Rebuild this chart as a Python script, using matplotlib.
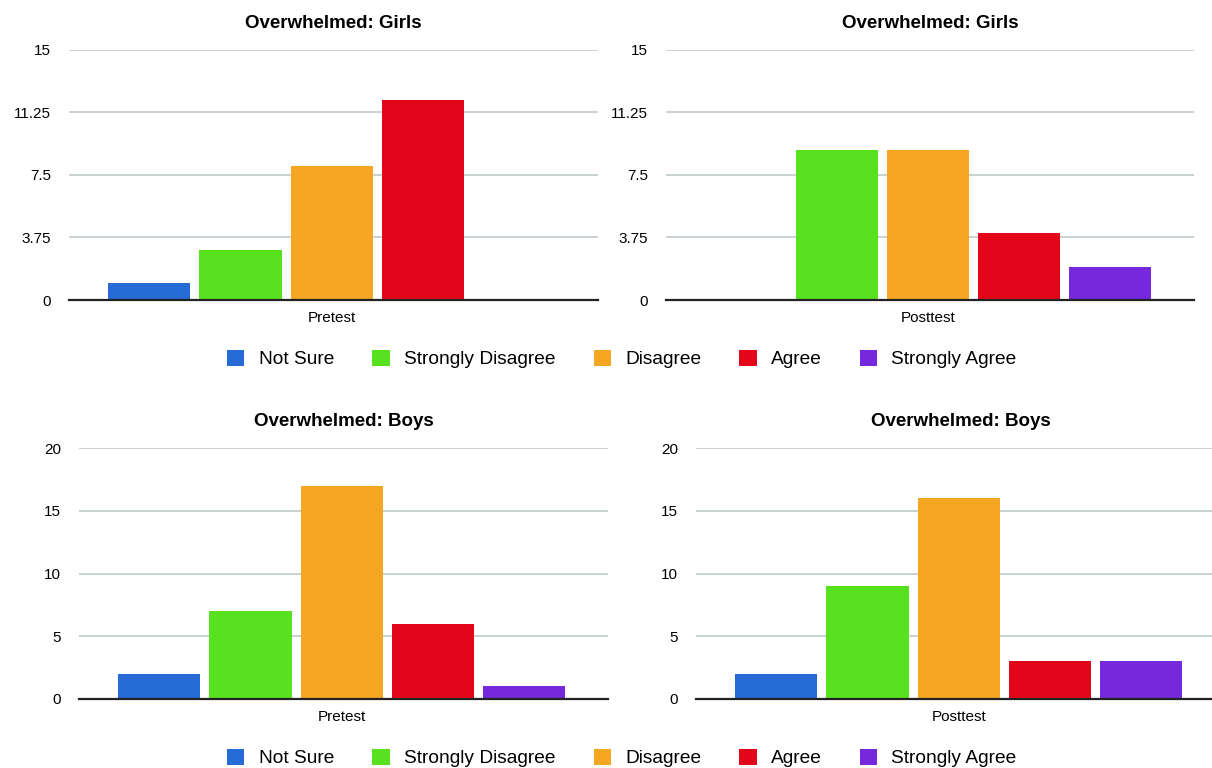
# Overwhelmed survey: girls / boys, pretest vs posttest
import matplotlib
matplotlib.use("Agg")
from matplotlib import pyplot as plt
from matplotlib.patches import Patch

# data
categories = ["Not Sure", "Strongly Disagree", "Disagree", "Agree", "Strongly Agree"]
colors = ["#276bd6", "#58e11f", "#f5a623", "#e3061a", "#7628dc"]

girls_pre = [1, 3, 8, 12, 0]
girls_post = [0, 9, 9, 4, 2]
boys_pre = [2, 7, 17, 6, 1]
boys_post = [2, 9, 16, 3, 3]

girls_ticks = [0, 3.75, 7.5, 11.25, 15]
girls_ticklabels = ["0", "3.75", "7.5", "11.25", "15"]
boys_ticks = [0, 5, 10, 15, 20]
boys_ticklabels = ["0", "5", "10", "15", "20"]

plt.rcParams["font.family"] = ["Liberation Sans", "DejaVu Sans"]

fig = plt.figure(figsize=(12.12, 7.68), dpi=100)

W, H = 1212, 768


def make_ax(x0, x1, y0, y1):
    return fig.add_axes([x0 / W, 1 - y1 / H, (x1 - x0) / W, (y1 - y0) / H])


panels = [
    (make_ax(69, 598, 49.5, 300), girls_pre, "Overwhelmed: Girls", "Pretest", girls_ticks, girls_ticklabels),
    (make_ax(666, 1194, 49.5, 300), girls_post, "Overwhelmed: Girls", "Posttest", girls_ticks, girls_ticklabels),
    (make_ax(79, 608, 448, 699), boys_pre, "Overwhelmed: Boys", "Pretest", boys_ticks, boys_ticklabels),
    (make_ax(696, 1225, 448, 699), boys_post, "Overwhelmed: Boys", "Posttest", boys_ticks, boys_ticklabels),
]

x = range(len(categories))
for ax, vals, title, xlabel, yt, ytl in panels:
    ax.bar(x, vals, width=0.9, color=colors, zorder=2)
    ax.set_xlim(-0.88, 4.92)
    ax.set_ylim(0, yt[-1])
    ax.set_yticks(yt)
    ax.set_yticklabels(ytl, fontsize=11)
    ax.set_xticks([2])
    ax.set_xticklabels([xlabel], fontsize=11)
    ax.tick_params(axis="y", length=0, pad=13)
    ax.tick_params(axis="x", length=0, pad=8)
    ax.grid(axis="y", color="#c9d1d1", linewidth=1.4, zorder=0)
    ax.set_axisbelow(True)
    for s in ["top", "right", "left"]:
        ax.spines[s].set_visible(False)
    ax.spines["bottom"].set_color("#222222")
    ax.spines["bottom"].set_linewidth(1.6)
    ax.spines["bottom"].set_zorder(3)
    ax.set_title(title, fontsize=13.5, fontweight="bold", pad=15.5)

# legends
handles = [Patch(facecolor=c, edgecolor="none") for c in colors]
for yc in [359, 758]:
    fig.legend(handles, categories, loc="center", bbox_to_anchor=(622 / W, 1 - yc / H),
               ncol=5, frameon=False, fontsize=13.75, handlelength=0.9, handleheight=0.9,
               handletextpad=0.75, columnspacing=2.0, borderpad=0)

plt.savefig("out.png", dpi=100)
